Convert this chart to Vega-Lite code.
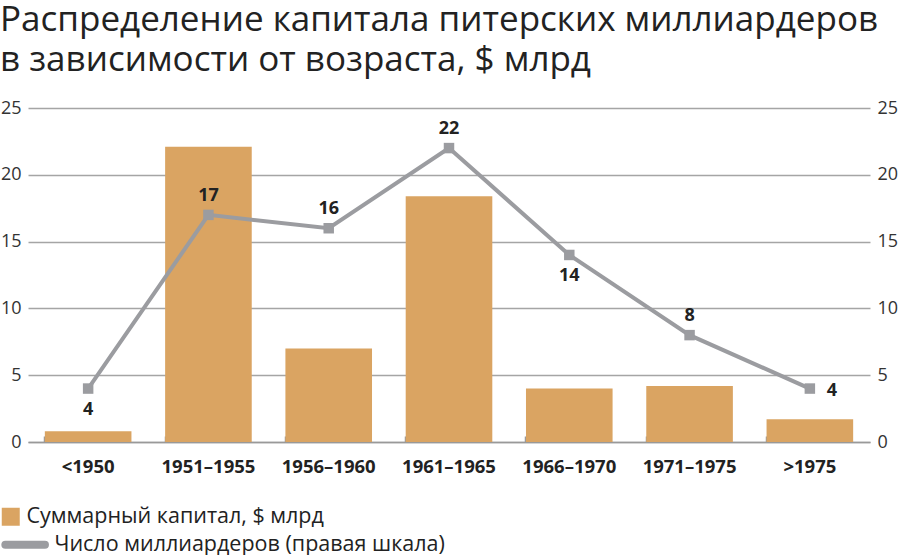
{
  "$schema": "https://vega.github.io/schema/vega-lite/v6.json",
  "width": 842,
  "height": 334,
  "padding": {"left": 0, "top": 3, "right": 0, "bottom": 0},
  "background": "white",
  "config": {
    "view": {"stroke": null},
    "font": "Open Sans"
  },
  "title": {
    "text": ["Распределение капитала питерских миллиардеров", "в зависимости от возраста, $ млрд"],
    "anchor": "start",
    "frame": "bounds",
    "font": "Open Sans",
    "fontSize": 35,
    "fontWeight": "normal",
    "color": "#222222",
    "lineHeight": 40,
    "offset": 21
  },
  "data": {
    "values": [
      {"age": "<1950", "capital": 0.8, "count": 4},
      {"age": "1951–1955", "capital": 22.1, "count": 17},
      {"age": "1956–1960", "capital": 7.0, "count": 16},
      {"age": "1961–1965", "capital": 18.4, "count": 22},
      {"age": "1966–1970", "capital": 4.0, "count": 14},
      {"age": "1971–1975", "capital": 4.2, "count": 8},
      {"age": ">1975", "capital": 1.7, "count": 4}
    ]
  },
  "encoding": {
    "x": {
      "field": "age",
      "type": "nominal",
      "sort": null,
      "scale": {"paddingInner": 0.28, "paddingOuter": 0.14},
      "axis": {
        "title": null,
        "labelAngle": 0,
        "labelFont": "Open Sans",
        "labelFontSize": 18.5,
        "labelFontWeight": "bold",
        "labelColor": "#222222",
        "labelPadding": 21,
        "bandPosition": 0,
        "tickSize": -6,
        "tickColor": "#999999",
        "tickWidth": 1.5,
        "domainColor": "#999999",
        "domainWidth": 1.5,
        "grid": false
      }
    }
  },
  "layer": [
    {
      "mark": {"type": "bar", "color": "#daa462"},
      "encoding": {
        "y": {
          "field": "capital",
          "type": "quantitative",
          "scale": {"domain": [0, 25]},
          "axis": {
            "title": null,
            "values": [0, 5, 10, 15, 20, 25],
            "grid": true,
            "gridColor": "#a5a5a5",
            "gridWidth": 1.5,
            "domain": false,
            "ticks": false,
            "labelFont": "Open Sans",
            "labelFontSize": 18,
            "labelColor": "#333333",
            "labelPadding": 7
          }
        },
        "color": {
          "datum": "Суммарный капитал, $ млрд",
          "type": "nominal",
          "scale": {
            "domain": ["Суммарный капитал, $ млрд", "Число миллиардеров (правая шкала)"],
            "range": ["#daa462", "#9b9ca0"]
          },
          "legend": {
            "title": null,
            "orient": "none",
            "legendX": -28,
            "legendY": 398,
            "labelFont": "Open Sans",
            "labelFontSize": 21.5,
            "labelColor": "#222222",
            "symbolSize": 324,
            "rowPadding": 0,
            "labelOffset": 5,
            "labelLimit": 600,
            "encode": {
              "symbols": {
                "update": {
                  "shape": {"signal": "datum.index === 0 ? 'square' : 'M-0.6,0H3.8'"},
                  "strokeWidth": {"signal": "datum.index === 0 ? 0 : 8"},
                  "stroke": {"signal": "datum.index === 0 ? '#daa462' : '#9b9ca0'"},
                  "fill": {"signal": "datum.index === 0 ? '#daa462' : 'transparent'"},
                  "strokeCap": {"value": "round"},
                  "opacity": {"value": 1}
                }
              },
              "labels": {
                "update": {
                  "dx": {"signal": "datum.index === 0 ? 0 : 28"}
                }
              }
            }
          }
        }
      }
    },
    {
      "layer": [
        {
          "mark": {
            "type": "line",
            "strokeWidth": 4,
            "point": {"shape": "square", "size": 110, "filled": true, "opacity": 1}
          },
          "encoding": {
            "color": {"datum": "Число миллиардеров (правая шкала)", "type": "nominal"}
          }
        },
        {
          "transform": [{"filter": "indexof(['1951–1955','1956–1960','1961–1965','1971–1975'], datum.age) >= 0"}],
          "mark": {"type": "text", "dy": -19, "fontSize": 18, "fontWeight": "bold", "color": "#222222", "font": "Open Sans"},
          "encoding": {"text": {"field": "count", "type": "quantitative"}}
        },
        {
          "transform": [{"filter": "datum.age === '<1950' || datum.age === '1966–1970'"}],
          "mark": {"type": "text", "dy": 21, "fontSize": 18, "fontWeight": "bold", "color": "#222222", "font": "Open Sans"},
          "encoding": {"text": {"field": "count", "type": "quantitative"}}
        },
        {
          "transform": [{"filter": "datum.age === '>1975'"}],
          "mark": {"type": "text", "dx": 22, "dy": 2, "fontSize": 18, "fontWeight": "bold", "color": "#222222", "font": "Open Sans"},
          "encoding": {"text": {"field": "count", "type": "quantitative"}}
        }
      ],
      "encoding": {
        "y": {
          "field": "count",
          "type": "quantitative",
          "scale": {"domain": [0, 25]},
          "axis": {
            "title": null,
            "orient": "right",
            "values": [0, 5, 10, 15, 20, 25],
            "grid": false,
            "domain": false,
            "ticks": false,
            "labelFont": "Open Sans",
            "labelFontSize": 18,
            "labelColor": "#333333",
            "labelPadding": 7
          }
        }
      }
    }
  ],
  "resolve": {"scale": {"y": "independent"}}
}
